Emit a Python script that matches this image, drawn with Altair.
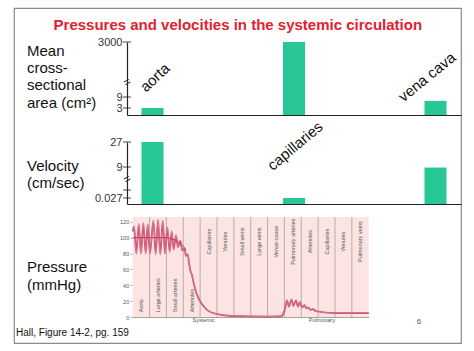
import altair as alt
import pandas as pd

# ------------------------------------------------------------------ data
vessels = ["aorta", "capillaries", "vena cava"]
area_cm2 = [3, 3000, 6.9]
velocity_cm_s = [27, 0.027, 8.8]

area_ticks = [3, 9, 3000]
velocity_ticks = [0.027, 0.27, 9, 27]

segments = ["Aorta", "Large arteries", "Small arteries", "Arterioles",
            "Capillaries", "Venules", "Small veins", "Large veins",
            "Venae cavae", "Pulmonary arteries", "Arterioles", "Capillaries",
            "Venules", "Pulmonary veins"]
n_bottom_labels = 4
circuits = ["Systemic", "Pulmonary"]

# position along the circulation (in segment widths) and pressure in mmHg
pressure_pos = [0.000, 0.077, 0.214, 0.356, 0.492, 0.629, 0.771, 0.890, 1.026,
                1.222, 1.364, 1.501, 1.637, 1.779, 1.916, 2.052, 2.195, 2.313,
                2.432, 2.568, 2.687, 2.823, 2.954, 3.072, 3.161, 3.250, 3.339,
                3.428, 3.517, 3.606, 3.725, 3.873, 4.051, 4.229, 4.466, 4.763,
                5.178, 5.771, 6.364, 8.796, 8.855, 9.004, 9.152, 9.270, 9.419,
                9.537, 9.686, 9.804, 9.923, 10.041, 10.178, 10.297, 10.415,
                10.540, 10.677, 10.872, 11.287, 12.000, 14.000]
pressure_mmHg = [108, 114, 80, 117, 80, 118, 80, 117, 80,
                 121, 79, 122, 79, 121, 80, 113, 82, 108,
                 85, 103, 88, 96, 84, 86, 77, 79, 68,
                 58, 53, 44, 34, 25, 18, 13, 8, 5,
                 3, 1.5, 1, 1, 1.5, 8, 21, 13, 22,
                 14, 21, 13, 19, 12, 15, 11, 12,
                 9, 10, 7.5, 6, 5, 5]
mean_pos = [0.0, 1.916, 2.212, 2.509, 2.805, 3.010, 3.160]
mean_mmHg = [100, 100, 99, 97, 93, 89, 84]
pressure_ticks = [0, 20, 40, 60, 80, 100, 120]
pressure_top = 126

title_text = "Pressures and velocities in the systemic circulation"
row_area = "Mean\ncross-\nsectional\narea (cm²)"
row_velocity = "Velocity\n(cm/sec)"
row_pressure = "Pressure\n(mmHg)"
source_text = "Hall, Figure 14-2, pg. 159"
page_text = "6"

# ------------------------------------------------------------------ style / layout
W, H = 447, 335          # framed slide area (plot area)
FONT = "Liberation Sans"
BAR = "#28c896"
INK = "#222222"
AX = 113                 # x of the bar-panel axes
band = dict(range=[AX, W], paddingInner=0.8445, paddingOuter=0.1025)


def note(text, x, y, size, color="#111111", weight="normal", align="left",
         baseline="alphabetic", angle=0, line_height=None):
    kw = dict(align=align, baseline=baseline, fontSize=size, font=FONT,
              color=color, fontWeight=weight)
    if angle:
        kw["angle"] = angle
    if line_height:
        kw["lineHeight"] = line_height
        kw["lineBreak"] = "\n"
    return alt.Chart(pd.DataFrame({"t": [text]})).mark_text(**kw).encode(
        text="t:N", x=alt.value(x), y=alt.value(y))


def bar_panel(values, ticks, ydomain, yrange, label_expr, base_y):
    df = pd.DataFrame({"vessel": vessels, "v": values})
    ys = alt.Scale(domain=ydomain, range=yrange, nice=False, zero=False)
    yaxis = alt.Axis(orient="left", offset=-AX, values=ticks, labelExpr=label_expr,
                     ticks=False, domainColor=INK, domainWidth=1.2, labelFont=FONT,
                     labelFontSize=11, labelColor="#333333", labelPadding=5,
                     labelOverlap=False, labelFlush=False, grid=False, title=None)
    xaxis = alt.Axis(orient="bottom", offset=-(H - base_y), labels=False, ticks=False,
                     domainColor=INK, domainWidth=1.2, grid=False, title=None)
    bars = alt.Chart(df).mark_bar(color=BAR).encode(
        x=alt.X("vessel:N", scale=alt.Scale(domain=vessels, **band), axis=xaxis,
                sort=vessels),
        y=alt.Y("v:Q", scale=ys, axis=yaxis),
        y2=alt.Y2Datum(0),
    )
    tick_marks = alt.Chart(pd.DataFrame({"v": ticks})).mark_tick(
        orient="horizontal", size=8, thickness=1.2, color=INK).encode(
        y=alt.Y("v:Q", scale=ys, axis=yaxis), x=alt.value(AX))
    return alt.layer(bars, tick_marks)


area_panel = bar_panel(area_cm2, area_ticks, [0, 3, 9, 3000], [107, 100, 89, 34],
                       "datum.value + ''", 107)
velocity_panel = bar_panel(velocity_cm_s, velocity_ticks, [0, 0.027, 0.27, 9, 27],
                           [196, 190, 182, 159, 134],
                           "datum.value == 0.27 ? '' : datum.value + ''", 196)

# ------------------------------------------------------------------ pressure panel
PX0, PX1 = 118.7, 354.7
n_seg = len(segments)
p_x = alt.Scale(domain=[0, n_seg], range=[PX0, PX1], nice=False, zero=False)
p_y = alt.Scale(domain=[0, pressure_top], range=[309, 209], nice=False, zero=False)
p_xaxis = alt.Axis(orient="bottom", offset=-(H - 309), labels=False, ticks=False,
                   domainColor="#8c8c8c", domainWidth=0.8, grid=False, title=None)
p_yaxis = alt.Axis(orient="left", offset=-PX0, values=pressure_ticks, domain=False,
                   tickSize=2.5, tickColor="#777777", tickWidth=0.6, labelFont=FONT,
                   labelFontSize=5.5, labelColor="#555555", labelPadding=1.5,
                   labelOverlap=False, labelFlush=False, grid=False, title=None)

bg = alt.Chart(pd.DataFrame({"x0": [0], "x1": [n_seg], "y0": [0], "y1": [pressure_top]})
               ).mark_rect(color="#fbe4e1").encode(
    x=alt.X("x0:Q", scale=p_x, axis=p_xaxis), x2="x1",
    y=alt.Y("y0:Q", scale=p_y, axis=p_yaxis), y2="y1")

seps = alt.Chart(pd.DataFrame({"b": list(range(1, n_seg)), "lo": 0, "hi": pressure_top})
                 ).mark_rule(color="#a8918f", strokeWidth=0.7).encode(
    x=alt.X("b:Q", scale=p_x, axis=p_xaxis),
    y=alt.Y("lo:Q", scale=p_y, axis=p_yaxis), y2="hi")

df_p = pd.DataFrame({"pos": pressure_pos, "p": pressure_mmHg})
df_m = pd.DataFrame({"pos": mean_pos, "p": mean_mmHg})


def pline(df, color, width, interp):
    return alt.Chart(df).mark_line(color=color, strokeWidth=width,
                                   interpolate=interp).encode(
        x=alt.X("pos:Q", scale=p_x, axis=p_xaxis),
        y=alt.Y("p:Q", scale=p_y, axis=p_yaxis))


outer_line = pline(df_p, "#c23a5e", 1.7, "catmull-rom")
inner_line = pline(df_p, "#f4b0c0", 0.5, "catmull-rom")
mean_line = pline(df_m, "#c0385a", 1.0, "monotone")

df_seg = pd.DataFrame({"mid": [i + 0.5 for i in range(n_seg)], "name": segments,
                       "bottom": [i < n_bottom_labels for i in range(n_seg)]})
seg_bottom = alt.Chart(df_seg).transform_filter("datum.bottom").mark_text(
    angle=270, align="left", baseline="middle", fontSize=5.5, font=FONT,
    color="#555555").encode(
    x=alt.X("mid:Q", scale=p_x, axis=p_xaxis),
    y=alt.YDatum(6, type="quantitative", scale=p_y, axis=p_yaxis),
    text="name:N")
seg_mid = alt.Chart(df_seg).transform_filter("!datum.bottom").mark_text(
    angle=270, align="center", baseline="middle", fontSize=5.5, font=FONT,
    color="#555555").encode(
    x=alt.X("mid:Q", scale=p_x, axis=p_xaxis),
    y=alt.YDatum(95, type="quantitative", scale=p_y, axis=p_yaxis),
    text="name:N")

pressure_panel = alt.layer(bg, seps, seg_bottom, seg_mid, outer_line, inner_line,
                           mean_line)

# ------------------------------------------------------------------ annotations
notes = [
    note(title_text, 223.8, 21.5, 15, color="#e4202e", weight="bold", align="center"),
    note(row_area, 13, 48, 15, line_height=17.2),
    note(row_velocity, 13, 162.5, 15, line_height=17.7),
    note(row_pressure, 13, 264, 15, line_height=18),
    note(source_text, 2, 327.5, 10),
    note(page_text, 405, 316, 8, color="#555555", align="center"),
    note("aorta", 141, 69.5, 15, align="center", baseline="middle", angle=317),
    note("capillaries", 281, 138, 15, align="center", baseline="middle", angle=320),
    note("vena cava", 413, 69, 15, align="center", baseline="middle", angle=321),
    note("=", AX, 74, 12, color=INK, align="center", baseline="middle", angle=330),
    note("=", AX, 171, 12, color=INK, align="center", baseline="middle", angle=330),
    note(circuits[0], 189.7, 314, 5.5, color="#555555", align="center"),
    note(circuits[1], 308, 314, 5.5, color="#555555", align="center"),
]

chart = alt.layer(area_panel, velocity_panel, pressure_panel, *notes).resolve_scale(
    x="independent", y="independent").properties(
    width=W, height=H,
    padding={"left": 14, "top": 8, "right": 13, "bottom": 8},
    autosize=alt.AutoSizeParams(type="none"),
    background="white",
).configure_view(stroke="#8a8a8a", strokeWidth=1.2)

chart.save("out.html", embed_options={"renderer": "svg", "actions": False})
